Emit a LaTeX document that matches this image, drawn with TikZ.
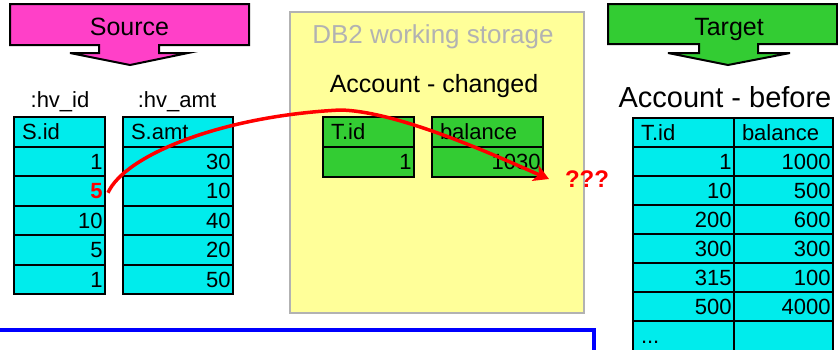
\documentclass[tikz,border=0pt]{standalone}
\usepackage{fontspec}
\setmainfont{Liberation Sans}
\usetikzlibrary{arrows.meta}

\definecolor{cellcyan}{RGB}{0,236,236}
\definecolor{srcpink}{RGB}{255,64,200}
\definecolor{tgtgreen}{RGB}{51,204,51}
\definecolor{wsyellow}{RGB}{255,255,153}
\definecolor{wsgray}{RGB}{178,178,178}
\definecolor{flowred}{RGB}{255,0,0}
\definecolor{frameblue}{RGB}{0,0,255}

\newcommand\fs[1]{\fontsize{#1}{#1}\selectfont}

\tikzset{
  dbcell/.style={draw=black, line width=2pt, anchor=north west,
    font=\fs{22}, text height=15.8pt, text depth=0pt},
  bannerbox/.style={draw=black, line width=2pt, line join=miter},
  bannertext/.style={font=\fs{25}, anchor=base},
  caption/.style={font=\fs{22}, anchor=base},
  flow/.style={draw=flowred, line width=3.5pt,
    -{Stealth[length=15pt,width=17pt,inset=4pt]}},
}

% one table column: name, left x, top y, width, row height, fill, heading, entries
\newcommand\dbcolumn[8]{%
  \pgfmathsetmacro\hdrw{#4-16}%
  \pgfmathsetmacro\valw{#4-5}%
  \node[dbcell, fill=#6, text width=\hdrw pt, inner xsep=8pt, align=left,
        minimum height=#5pt] (#1-0) at (#2,#3) {#7};
  \foreach \v [count=\i] in {#8} {
    \node[dbcell, fill=#6, text width=\valw pt, inner xsep=2.5pt, align=right,
          minimum height=#5pt] (#1-\i) at (#2,{#3+\i*#5}) {\v};
  }%
}

\begin{document}
\begin{tikzpicture}[x=1pt,y=-1pt]
\clip (0,0) rectangle (838,349);

% Source banner
\draw[bannerbox, fill=srcpink] (10,4) -- (249,4) -- (249,45) -- (159,45) -- (159,53)
  -- (188,53) -- (130,65) -- (70,53) -- (99,53) -- (99,45) -- (10,45) -- cycle;
\node[bannertext] (src) at (129.5,35) {Source};

% Target banner
\draw[bannerbox, fill=tgtgreen] (608,4) -- (837,4) -- (837,44) -- (758,44) -- (758,53)
  -- (790,53) -- (728,65) -- (668,53) -- (699,53) -- (699,44) -- (608,44) -- cycle;
\node[bannertext] (tgt) at (729,35) {Target};

% DB2 working storage
\node[draw=wsgray, fill=wsyellow, line width=2pt, anchor=north west,
      minimum width=294pt, minimum height=301pt, inner sep=0pt] (db2) at (289,11) {};
\node[font=\fs{26}, text=wsgray, anchor=base] (db2title) at (433,43) {DB2 working storage};
\node[font=\fs{25}, anchor=base] (chgtitle) at (434,92) {Account - changed};
\dbcolumn{chgid}{322}{116}{91}{30}{tgtgreen}{T.id}{1}
\dbcolumn{chgbal}{431}{116}{111}{30}{tgtgreen}{balance}{1030}

% host variables
\node[caption] (hvid) at (60,107) {:hv\_id};
\node[caption] (hvamt) at (177,107) {:hv\_amt};
\dbcolumn{sid}{13}{116}{91}{29.5}{cellcyan}{S.id}{1,{\color{flowred}\bfseries 5},10,5,1}
\dbcolumn{samt}{122}{116}{110}{29.5}{cellcyan}{S.amt}{30,10,40,20,50}

% Account before the change
\node[font=\fs{29}, anchor=base] (beftitle) at (725,107) {Account - before};
\dbcolumn{tid}{632}{117}{101}{29}{cellcyan}{T.id}{1,10,200,300,315,500}
\dbcolumn{tbal}{733}{117}{99}{29}{cellcyan}{balance}{1000,500,600,300,100,4000}
\node[dbcell, fill=cellcyan, text width=85pt, inner xsep=8pt, align=left,
      text depth=11pt, minimum height=40pt] (tid-7) at (632,320) {...};
\node[dbcell, fill=cellcyan, minimum width=99pt, minimum height=40pt] (tbal-7) at (733,320) {};

% unresolved lookup
\node[font=\fs{24}\bfseries, text=flowred, anchor=base] (qq) at (587,187) {???};
\coordinate (tip) at (549,179);
\draw[flow] ([xshift=2pt,yshift=-2pt]sid-2.east) .. controls (125,155) and (222,116)
  .. (340,110) .. controls (400,111) and (505,160) .. (tip);

% lower frame
\draw[frameblue, line width=4.5pt] (-10,330) -- (594,330) -- (594,360);
\end{tikzpicture}
\end{document}
